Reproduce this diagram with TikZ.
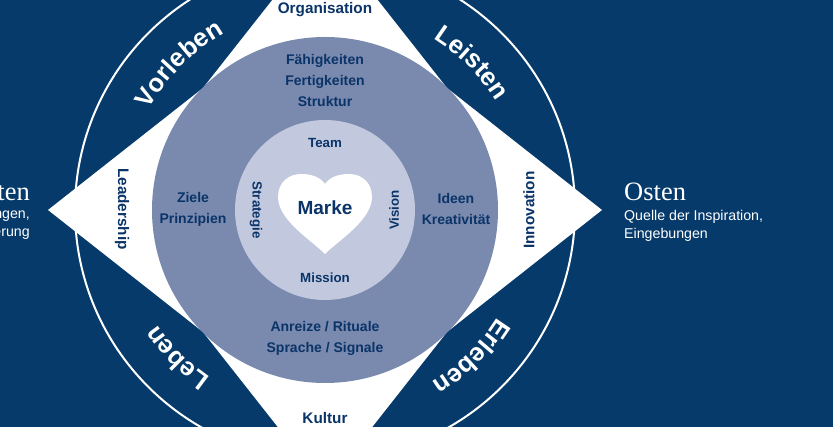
\documentclass[tikz,border=0pt]{standalone}
\usepackage{fontspec}
\setmainfont{Liberation Sans}
\newfontfamily\seriffont{Liberation Serif}
\usetikzlibrary{decorations.text}
\definecolor{navy}{RGB}{5,58,106}
\definecolor{midblue}{RGB}{122,137,174}
\definecolor{paleblue}{RGB}{194,200,221}
\definecolor{inkblue}{RGB}{10,52,104}
\newcommand{\curvefont}{\bfseries\fontsize{25.5}{26}\selectfont}
\tikzset{
    mylabel/.style = {align=center,inner sep=0pt,text=inkblue,font=\bfseries\fontsize{14}{21}\selectfont},
    mylabelb/.style = {align=center,inner sep=0pt,text=inkblue,font=\bfseries\fontsize{15.3}{21}\selectfont},
    mylabeli/.style = {align=center,inner sep=0pt,text=inkblue,font=\bfseries\fontsize{13.3}{14}\selectfont},
    myinfo/.style = {align=left,inner sep=0pt,text=white,font=\fontsize{14.2}{18}\selectfont},
    myhead/.style = {inner sep=0pt,text=white,font=\seriffont\fontsize{26.5}{26}\selectfont},
    mycurve/.style = {decorate,decoration={text along path,text align=center,text color=white,text={#1}}},
}
\begin{document}
\begin{tikzpicture}[x=1pt,y=1pt]
\path[use as bounding box,fill=navy] (-325,-217) rectangle (508,210);
\begin{scope}
\clip (-325,-217) rectangle (508,210);
\draw[white,line width=2pt] (0,0) circle[radius=250];
\fill[white] (-277,0) -- (-122,122) -- (0,277) -- (122,122) -- (277,0)
  -- (122,-122) -- (0,-277) -- (-122,-122) -- cycle;
\fill[midblue] (0,0) circle[radius=173];
\fill[paleblue] (0,0) circle[radius=90];
\fill[white] (0,-44) .. controls (-14,-30) and (-47,-10) .. (-47,13)
  .. controls (-47,28) and (-36,36) .. (-24,36)
  .. controls (-12,36) and (-4,32) .. (0,26)
  .. controls (4,32) and (12,36) .. (24,36)
  .. controls (36,36) and (47,28) .. (47,13)
  .. controls (47,-10) and (14,-30) .. (0,-44) -- cycle;
\end{scope}
%
\path[mycurve={|\curvefont|Vorleben}] (180:203) arc[start angle=180,end angle=90,radius=203];
\path[mycurve={|\curvefont|Leisten}] (90:203) arc[start angle=90,end angle=0,radius=203];
\path[mycurve={|\curvefont|Erleben}] (0:203) arc[start angle=0,end angle=-90,radius=203];
\path[mycurve={|\curvefont|Leben}] (-90:203) arc[start angle=-90,end angle=-180,radius=203];
%
\node[mylabelb] at (0,200) (organisation) {Organisation};
\node[mylabelb] at (0,-208) (kultur) {Kultur};
\node[mylabelb,rotate=-90] at (-203,1) (leadership) {Leadership};
\node[mylabelb,rotate=90] at (204,0) (innovation) {Innovation};
%
\node[mylabel] at (0,129.5) (faehigkeiten) {Fähigkeiten\\Fertigkeiten\\Struktur};
\node[mylabel] at (-132,1) (ziele) {Ziele\\Prinzipien};
\node[mylabel] at (131,1) (ideen) {Ideen\\Kreativität};
\node[mylabel] at (0,-128) (anreize) {Anreize / Rituale\\Sprache / Signale};
%
\node[mylabeli] at (0,67) (team) {Team};
\node[mylabeli] at (0,-68) (mission) {Mission};
\node[mylabeli,rotate=-90] at (-69,0) (strategie) {Strategie};
\node[mylabeli,rotate=90] at (69,0) (vision) {Vision};
\node[mylabel,font=\bfseries\fontsize{19}{19}\selectfont] at (0,2) (marke) {Marke};
%
\node[myhead,anchor=base west] at (299,9) (osten) {Osten};
\node[myinfo,anchor=north west] at (299,-0.5) (ostentext) {Quelle der Inspiration,\\Eingebungen};
\node[myhead,anchor=base east] at (-295,9) (westen) {ten};
\node[myinfo,anchor=north east,align=right] at (-295,-0.5) (westentext) {ngen,\\erung};
\end{tikzpicture}
\end{document}
